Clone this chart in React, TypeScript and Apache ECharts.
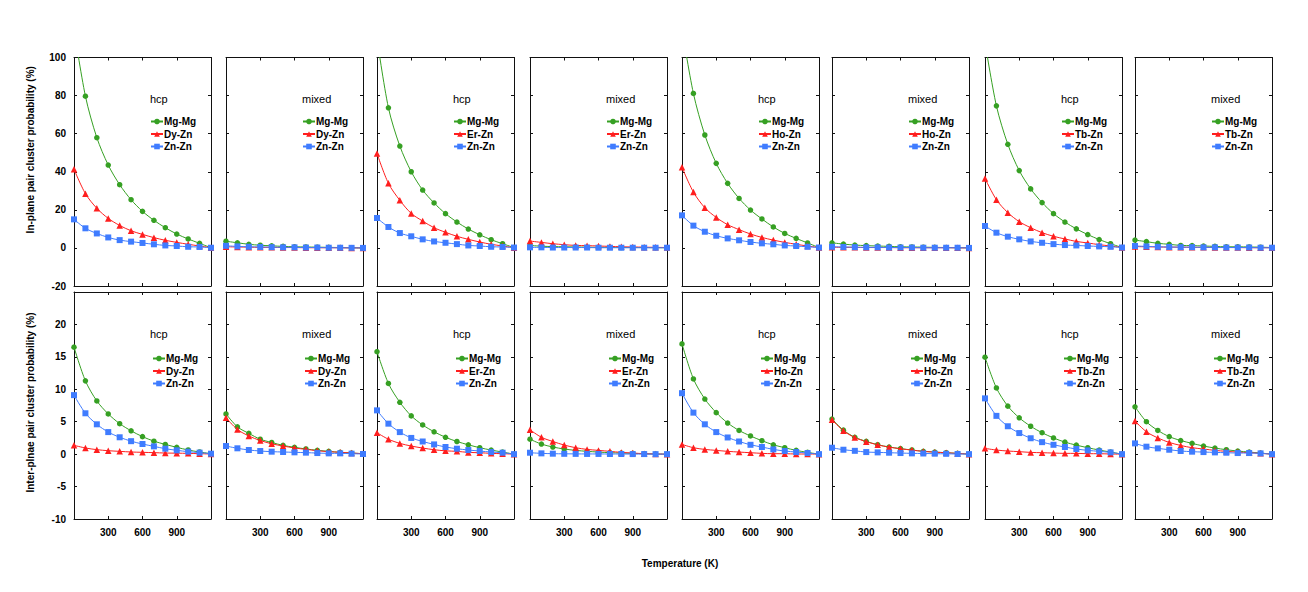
import React, { useEffect, useRef } from "react";
import * as echarts from "echarts";

// Temperature (K)
const temps = [0, 100, 200, 300, 400, 500, 600, 700, 800, 900, 1000, 1100, 1200];
const elements = ["Dy", "Er", "Ho", "Tb"];
const phases = ["hcp", "mixed"];

// In-plane pair cluster probability (%) — top row
const inHcpDyMgMg = [115, 79.7, 57.9, 43.5, 33.2, 25.3, 19.2, 14.5, 10.6, 7.3, 4.7, 2.4, 0.1];
const inHcpDyXZn = [41.3, 28.5, 20.8, 15.5, 11.8, 9.0, 7.1, 5.4, 4.0, 2.9, 1.9, 1.0, 0.1];
const inHcpDyZnZn = [15.0, 10.3, 7.6, 5.5, 4.1, 3.3, 2.6, 1.9, 1.3, 1.0, 0.6, 0.5, 0.1];
const inMixDyMgMg = [3.5, 2.7, 1.9, 1.4, 1.1, 0.8, 0.6, 0.5, 0.4, 0.3, 0.2, 0.1, 0];
const inMixDyXZn = [0.6, 0.5, 0.4, 0.3, 0.3, 0.2, 0.2, 0.1, 0.1, 0.1, 0.05, 0.02, 0];
const inMixDyZnZn = [1.1, 0.8, 0.6, 0.5, 0.4, 0.3, 0.3, 0.2, 0.2, 0.1, 0.1, 0.05, 0];
const inHcpErMgMg = [110, 73.6, 53.5, 40.0, 30.4, 23.6, 18.0, 13.6, 9.9, 6.9, 4.3, 2.2, 0.2];
const inHcpErXZn = [49.6, 33.9, 25.0, 18.1, 14.1, 10.6, 8.2, 6.1, 4.5, 3.1, 1.9, 1.0, 0.1];
const inHcpErZnZn = [15.7, 11.0, 7.8, 6.1, 4.5, 3.4, 2.7, 2.0, 1.3, 1.0, 0.6, 0.5, 0.2];
const inMixErMgMg = [1.3, 0.9, 0.7, 0.6, 0.5, 0.4, 0.3, 0.3, 0.2, 0.2, 0.2, 0.1, 0.1];
const inMixErXZn = [3.6, 2.9, 2.2, 1.7, 1.3, 1.2, 1.0, 0.8, 0.6, 0.5, 0.4, 0.3, 0.2];
const inMixErZnZn = [0.3, 0.3, 0.2, 0.2, 0.2, 0.2, 0.1, 0.1, 0.1, 0.1, 0.1, 0.1, 0.1];
const inHcpHoMgMg = [115, 81.1, 59.3, 44.4, 33.9, 26.0, 19.9, 15.2, 11.0, 7.6, 5.0, 2.6, 0.2];
const inHcpHoXZn = [42.3, 29.3, 21.1, 16.0, 12.2, 9.6, 7.3, 5.5, 4.1, 2.9, 1.9, 1.0, 0.2];
const inHcpHoZnZn = [17.1, 11.7, 8.5, 6.4, 5.0, 4.0, 3.1, 2.4, 1.9, 1.3, 1.0, 0.6, 0.2];
const inMixHoMgMg = [2.7, 2.0, 1.5, 1.2, 1.0, 0.8, 0.6, 0.5, 0.4, 0.3, 0.2, 0.1, 0.1];
const inMixHoXZn = [0.4, 0.3, 0.3, 0.2, 0.2, 0.2, 0.1, 0.1, 0.1, 0.1, 0.1, 0.05, 0];
const inMixHoZnZn = [0.6, 0.5, 0.4, 0.3, 0.3, 0.2, 0.2, 0.2, 0.1, 0.1, 0.1, 0.1, 0];
const inHcpTbMgMg = [108, 74.6, 54.4, 40.6, 31.0, 23.8, 18.0, 13.6, 10.0, 7.0, 4.4, 2.2, 0.2];
const inHcpTbXZn = [36.5, 25.3, 18.5, 13.8, 10.6, 8.0, 6.1, 4.7, 3.4, 2.6, 1.7, 1.0, 0.2];
const inHcpTbZnZn = [11.5, 8.0, 5.9, 4.5, 3.4, 2.7, 2.0, 1.5, 1.3, 1.0, 0.8, 0.6, 0.2];
const inMixTbMgMg = [4.1, 3.3, 2.4, 1.9, 1.3, 1.2, 1.0, 0.8, 0.6, 0.6, 0.5, 0.4, 0.2];
const inMixTbXZn = [0.7, 0.6, 0.5, 0.4, 0.4, 0.3, 0.3, 0.2, 0.2, 0.2, 0.1, 0.1, 0.1];
const inMixTbZnZn = [1.0, 0.8, 0.6, 0.5, 0.4, 0.4, 0.3, 0.3, 0.2, 0.2, 0.2, 0.1, 0.1];

// Inter-plane pair cluster probability (%) — bottom row
const itHcpDyMgMg = [16.5, 11.3, 8.2, 6.2, 4.7, 3.6, 2.7, 2.0, 1.5, 1.05, 0.64, 0.33, 0.07];
const itHcpDyXZn = [1.36, 0.95, 0.69, 0.53, 0.43, 0.33, 0.28, 0.23, 0.17, 0.15, 0.12, 0.07, 0.02];
const itHcpDyZnZn = [9.1, 6.3, 4.6, 3.4, 2.6, 2.0, 1.56, 1.2, 0.84, 0.59, 0.38, 0.23, 0.07];
const itMixDyMgMg = [6.2, 4.2, 3.2, 2.3, 1.8, 1.35, 1.05, 0.8, 0.59, 0.43, 0.28, 0.17, 0.07];
const itMixDyXZn = [5.6, 3.8, 2.8, 2.1, 1.6, 1.25, 0.95, 0.74, 0.53, 0.38, 0.28, 0.17, 0.07];
const itMixDyZnZn = [1.25, 0.9, 0.64, 0.48, 0.38, 0.33, 0.28, 0.23, 0.17, 0.12, 0.12, 0.07, 0.02];
const itHcpErMgMg = [15.8, 10.9, 8.0, 5.9, 4.5, 3.45, 2.6, 1.95, 1.44, 0.99, 0.63, 0.32, 0];
const itHcpErXZn = [3.3, 2.3, 1.66, 1.25, 0.94, 0.68, 0.51, 0.43, 0.27, 0.22, 0.12, 0.07, 0];
const itHcpErZnZn = [6.75, 4.7, 3.4, 2.5, 1.95, 1.5, 1.1, 0.84, 0.63, 0.48, 0.32, 0.22, 0];
const itMixErMgMg = [2.3, 1.55, 1.1, 0.79, 0.58, 0.43, 0.32, 0.22, 0.17, 0.12, 0.07, 0.02, 0];
const itMixErXZn = [3.75, 2.6, 1.95, 1.4, 0.99, 0.73, 0.58, 0.43, 0.27, 0.17, 0.07, 0.02, 0];
const itMixErZnZn = [0.22, 0.12, 0.07, 0.05, 0.04, 0.03, 0.03, 0.02, 0.02, 0.01, 0.01, 0, 0];
const itHcpHoMgMg = [17.0, 11.6, 8.5, 6.4, 4.8, 3.65, 2.8, 2.07, 1.44, 0.99, 0.58, 0.27, 0];
const itHcpHoXZn = [1.5, 0.99, 0.73, 0.58, 0.43, 0.32, 0.22, 0.12, 0.07, 0.07, 0.02, 0.02, 0];
const itHcpHoZnZn = [9.4, 6.4, 4.6, 3.4, 2.57, 1.95, 1.44, 1.1, 0.73, 0.48, 0.32, 0.17, 0];
const itMixHoMgMg = [5.4, 3.7, 2.6, 1.97, 1.45, 1.1, 0.85, 0.64, 0.44, 0.32, 0.22, 0.12, 0];
const itMixHoXZn = [5.3, 3.6, 2.55, 1.93, 1.43, 1.08, 0.83, 0.62, 0.42, 0.31, 0.21, 0.11, 0];
const itMixHoZnZn = [0.99, 0.68, 0.51, 0.32, 0.27, 0.22, 0.17, 0.12, 0.1, 0.07, 0.05, 0.02, 0];
const itHcpTbMgMg = [14.95, 10.2, 7.4, 5.6, 4.3, 3.3, 2.5, 1.85, 1.39, 0.99, 0.63, 0.32, 0];
const itHcpTbXZn = [0.89, 0.63, 0.48, 0.38, 0.27, 0.22, 0.17, 0.12, 0.12, 0.07, 0.07, 0.02, 0];
const itHcpTbZnZn = [8.6, 5.9, 4.3, 3.25, 2.45, 1.85, 1.44, 1.1, 0.79, 0.58, 0.43, 0.27, 0];
const itMixTbMgMg = [7.3, 5.0, 3.65, 2.7, 2.1, 1.66, 1.25, 0.94, 0.68, 0.48, 0.32, 0.17, 0];
const itMixTbXZn = [5.1, 3.45, 2.5, 1.8, 1.34, 0.99, 0.79, 0.58, 0.43, 0.32, 0.22, 0.12, 0];
const itMixTbZnZn = [1.66, 1.15, 0.89, 0.68, 0.48, 0.38, 0.32, 0.27, 0.22, 0.17, 0.17, 0.12, 0];

// Axis tick settings
const topYMin = -20, topYMax = 100, topYStep = 20;
const botYMin = -10, botYMax = 25, botYStep = 5;
const xMin = 0, xMax = 1200, xStep = 300;

const topPanels = [
  [inHcpDyMgMg, inHcpDyXZn, inHcpDyZnZn], [inMixDyMgMg, inMixDyXZn, inMixDyZnZn],
  [inHcpErMgMg, inHcpErXZn, inHcpErZnZn], [inMixErMgMg, inMixErXZn, inMixErZnZn],
  [inHcpHoMgMg, inHcpHoXZn, inHcpHoZnZn], [inMixHoMgMg, inMixHoXZn, inMixHoZnZn],
  [inHcpTbMgMg, inHcpTbXZn, inHcpTbZnZn], [inMixTbMgMg, inMixTbXZn, inMixTbZnZn],
];
const botPanels = [
  [itHcpDyMgMg, itHcpDyXZn, itHcpDyZnZn], [itMixDyMgMg, itMixDyXZn, itMixDyZnZn],
  [itHcpErMgMg, itHcpErXZn, itHcpErZnZn], [itMixErMgMg, itMixErXZn, itMixErZnZn],
  [itHcpHoMgMg, itHcpHoXZn, itHcpHoZnZn], [itMixHoMgMg, itMixHoXZn, itMixHoZnZn],
  [itHcpTbMgMg, itHcpTbXZn, itHcpTbZnZn], [itMixTbMgMg, itMixTbXZn, itMixTbZnZn],
];

const GREEN = "#36a023";
const RED = "#ff1e1e";
const BLUE = "#3f7cff";
const FONT = '"Liberation Sans", Arial, sans-serif';

function buildOption() {
  const lefts = [74, 226, 377, 530, 682, 832, 985, 1135];
  const W = 137;
  const rows = [
    { top: 57.5, height: 228.5, min: topYMin, max: topYMax, step: topYStep, panels: topPanels, titleY: 98.5, legendTop: 115.5, legendDx: 76 },
    { top: 292, height: 227, min: botYMin, max: botYMax, step: botYStep, panels: botPanels, titleY: 334, legendTop: 352.5, legendDx: 78 },
  ];
  const grid: any[] = [];
  const xAxis: any[] = [];
  const yAxis: any[] = [];
  const series: any[] = [];
  const legend: any[] = [];
  const graphic: any[] = [];
  const lineCol = "#111";
  rows.forEach((row, r) => {
    row.panels.forEach((data, c) => {
      const g = grid.length;
      const el = elements[Math.floor(c / 2)];
      const phase = phases[c % 2];
      const names = ["Mg-Mg", el + "-Zn", "Zn-Zn"];
      grid.push({ left: lefts[c], top: row.top, width: W, height: row.height, containLabel: false });
      const tick = { show: true, inside: true, length: 3, lineStyle: { color: lineCol, width: 1 } };
      const aLine = { show: true, onZero: false, lineStyle: { color: lineCol, width: 1 } };
      const label = { fontSize: 10, fontWeight: "bold", color: "#000", fontFamily: FONT };
      xAxis.push({
        type: "value", gridIndex: g, position: "bottom", min: xMin, max: xMax, interval: xStep,
        axisLine: aLine, axisTick: tick, splitLine: { show: false },
        axisLabel: { ...label, show: r === 1, margin: 8, showMinLabel: false, showMaxLabel: false },
      });
      xAxis.push({
        type: "value", gridIndex: g, position: "top", min: xMin, max: xMax, interval: xStep,
        axisLine: aLine, axisTick: tick, splitLine: { show: false }, axisLabel: { show: false },
      });
      const first = c === 0;
      yAxis.push({
        type: "value", gridIndex: g, position: "left", min: row.min, max: row.max, interval: row.step,
        axisLine: aLine, axisTick: tick, splitLine: { show: false },
        axisLabel: { ...label, show: first, margin: 8, showMaxLabel: r === 0 },
        name: first ? (r === 0 ? "In-plane pair cluster probability (%)" : "Inter-plnae pair cluster probability (%)") : "",
        nameLocation: "middle", nameRotate: 90, nameGap: 39,
        nameTextStyle: { fontSize: 10, fontWeight: "bold", color: "#000", fontFamily: FONT, padding: r === 0 ? [0, 0, 0, 44] : [0, 0, 0, 6] },
      });
      yAxis.push({
        type: "value", gridIndex: g, position: "right", min: row.min, max: row.max, interval: row.step,
        axisLine: aLine, axisTick: tick, splitLine: { show: false }, axisLabel: { show: false },
      });
      const styles = [
        { color: GREEN, symbol: "circle", size: 5.5 },
        { color: RED, symbol: "triangle", size: 6.5 },
        { color: BLUE, symbol: "rect", size: 6 },
      ];
      data.forEach((vals, k) => {
        const st = styles[k];
        series.push({
          type: "line", name: names[k], xAxisIndex: 2 * g, yAxisIndex: 2 * g,
          data: temps.map((t, i) => [t, vals[i]]),
          smooth: 0.3, symbol: st.symbol, symbolSize: st.size, clip: true,
          itemStyle: { color: st.color }, lineStyle: { color: st.color, width: 1 },
          z: 2 + k,
        });
      });
      legend.push({
        data: names, orient: "vertical", left: lefts[c] + row.legendDx, top: row.legendTop,
        itemWidth: 12, itemHeight: 7, itemGap: 0.5, padding: 0, selectedMode: false,
        textStyle: { fontSize: 10, fontWeight: "bold", color: "#000", fontFamily: FONT, lineHeight: 12, padding: [0, 0, 0, -4] },
      });
      graphic.push({
        type: "text", x: lefts[c] + 76, y: row.titleY,
        style: { text: phase, font: `11px ${FONT}`, fill: "#000", verticalAlign: "middle", align: "left" },
      });
    });
  });
  graphic.push({
    type: "text", x: 680, y: 563,
    style: { text: "Temperature (K)", font: `bold 10px ${FONT}`, fill: "#000", verticalAlign: "middle", align: "center" },
  });
  return {
    animation: false,
    backgroundColor: "#fff",
    textStyle: { fontFamily: FONT },
    grid, xAxis, yAxis, series, legend, graphic,
  };
}

export default function App() {
  const ref = useRef<HTMLDivElement>(null);
  useEffect(() => {
    document.body.style.margin = "0";
    if (!ref.current) return;
    const chart = echarts.init(ref.current, undefined, { renderer: "svg" });
    chart.setOption(buildOption() as any);
    return () => chart.dispose();
  }, []);
  return <div ref={ref} style={{ width: 1308, height: 592 }} />;
}
